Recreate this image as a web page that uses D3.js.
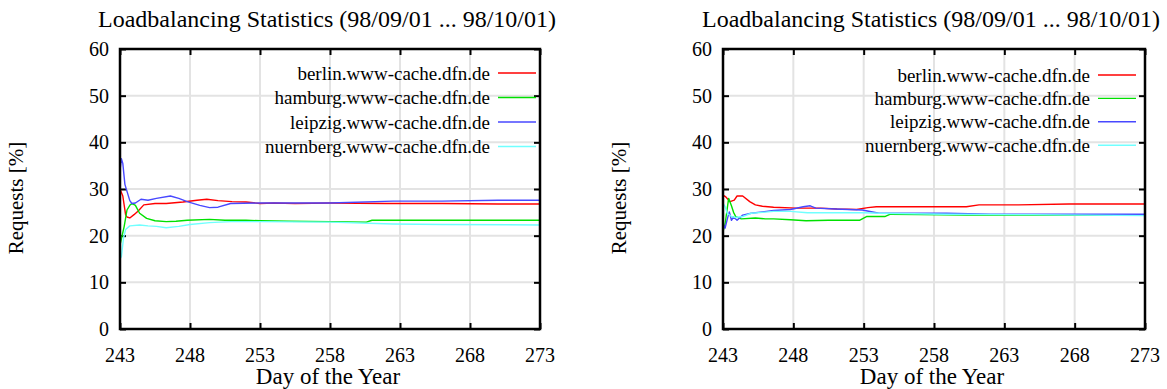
<!DOCTYPE html>
<html>
<head>
<meta charset="utf-8">
<script src="https://cdn.jsdelivr.net/npm/d3@7"></script>
<style>
  body { margin: 0; background: #fff; }
  svg { display: block; }
</style>
</head>
<body>
<div id="chart"></div>
<script>
'use strict';

// values: [day of year, requests %]
const names = ["berlin.www-cache.dfn.de", "hamburg.www-cache.dfn.de",
               "leipzig.www-cache.dfn.de", "nuernberg.www-cache.dfn.de"];
const colors = ["#ff0000", "#00e000", "#4848ff", "#70ffff"];
const xTicks = [243, 248, 253, 258, 263, 268, 273];
const yTicks = [0, 10, 20, 30, 40, 50, 60];
const title = "Loadbalancing Statistics (98/09/01 ... 98/10/01)";

const leftBerlin = [[243.0,30.0],[243.2,28.5],[243.4,24.5],[243.5,24.0],[243.7,23.8],[244.0,24.5],[244.3,25.3],[244.7,26.6],[245.5,26.9],[246.3,26.9],[247.5,27.2],[248.5,27.6],[249.2,27.8],[250.0,27.5],[251.0,27.3],[252.0,27.2],[253.0,26.9],[254.0,27.0],[255.5,26.9],[258.0,27.0],[262.0,26.9],[266.0,26.9],[270.0,26.8],[273.0,26.8]];
const leftHamburg = [[243.0,18.0],[243.1,19.3],[243.3,22.0],[243.5,25.5],[243.7,26.5],[243.85,26.9],[244.1,26.5],[244.4,24.8],[244.9,23.7],[245.5,23.2],[246.3,23.0],[247.0,23.1],[247.8,23.3],[249.4,23.5],[250.5,23.3],[252.0,23.3],[253.0,23.2],[255.0,23.1],[258.0,23.0],[260.6,22.9],[261.0,23.3],[265.0,23.3],[270.0,23.3],[273.0,23.3]];
const leftLeipzig = [[243.0,34.0],[243.1,36.5],[243.2,35.5],[243.35,31.0],[243.5,29.5],[243.7,27.5],[243.85,26.9],[244.1,27.0],[244.5,27.8],[245.0,27.6],[245.6,28.0],[246.6,28.5],[247.2,28.0],[247.8,27.3],[248.7,26.5],[249.4,26.0],[250.0,26.1],[250.9,26.9],[253.0,27.0],[258.0,27.0],[262.5,27.4],[266.0,27.4],[270.0,27.6],[273.0,27.6]];
const leftNuernberg = [[243.0,15.0],[243.1,15.5],[243.25,19.5],[243.4,21.3],[243.7,22.1],[244.4,22.3],[245.0,22.1],[245.6,22.0],[246.3,21.7],[247.2,22.0],[248.0,22.4],[249.4,22.8],[250.9,23.0],[253.0,23.0],[258.0,22.9],[262.5,22.5],[266.0,22.4],[273.0,22.3]];

const rightBerlin = [[243.0,28.7],[243.2,28.3],[243.5,27.3],[243.8,27.6],[244.0,28.5],[244.4,28.5],[244.9,27.3],[245.3,26.6],[245.8,26.3],[246.6,26.1],[248.2,25.9],[249.9,25.9],[251.1,25.7],[252.5,25.6],[253.3,26.0],[253.9,26.2],[257.0,26.2],[260.3,26.2],[261.2,26.6],[264.0,26.6],[267.6,26.8],[273.0,26.8]];
const rightHamburg = [[243.0,20.9],[243.15,22.5],[243.4,28.0],[243.6,26.4],[243.75,25.0],[243.9,24.1],[244.3,23.6],[245.3,23.8],[246.0,23.6],[246.6,23.6],[247.8,23.4],[248.9,23.2],[250.5,23.3],[252.7,23.3],[253.2,24.1],[254.5,24.1],[254.9,24.6],[257.0,24.5],[260.3,24.4],[265.0,24.4],[273.0,24.4]];
const rightLeipzig = [[243.0,22.6],[243.15,21.6],[243.3,23.5],[243.45,25.1],[243.6,23.3],[243.75,24.0],[244.0,23.3],[244.4,24.4],[245.0,24.8],[245.8,25.1],[246.6,25.4],[247.8,25.6],[248.7,26.2],[249.2,26.4],[249.6,25.9],[251.0,25.7],[252.9,25.5],[254.1,24.8],[256.0,24.8],[258.9,24.8],[262.0,24.6],[267.0,24.6],[273.0,24.6]];
const rightNuernberg = [[243.0,26.9],[243.15,26.2],[243.3,24.8],[243.6,24.1],[243.9,23.9],[244.4,24.1],[245.0,24.8],[245.8,25.0],[246.6,25.2],[247.8,25.2],[249.0,24.9],[251.0,24.9],[253.0,24.9],[254.1,24.8],[258.9,24.6],[265.0,24.5],[273.0,24.3]];

const FONT = "'Liberation Serif', 'Times New Roman', Times, serif";
const width = 1167, height = 389;
const svg = d3.select("#chart").append("svg")
    .attr("width", width)
    .attr("height", height)
    .attr("font-family", FONT);

function label(g, x, y, anchor, size, txt)
{
    return g.append("text")
        .attr("x", x).attr("y", y)
        .attr("text-anchor", anchor)
        .attr("font-family", FONT)
        .attr("font-size", size)
        .attr("fill", "#000")
        .text(txt);
}

function drawPlot(left, right, legendX, legendY, legendStep, series)
{
    var top = 49, bottom = 329;
    var x = d3.scaleLinear().domain([243, 273]).range([left, right]);
    var y = d3.scaleLinear().domain([0, 60]).range([bottom, top]);
    var g = svg.append("g");
    var cx = (left + right) / 2;

    // grid
    g.selectAll(".gx").data(xTicks.slice(1, -1)).enter().append("line")
        .attr("x1", d => x(d)).attr("x2", d => x(d))
        .attr("y1", top).attr("y2", bottom)
        .attr("stroke", "#e3e3e3").attr("stroke-width", 2);
    g.selectAll(".gy").data(yTicks.slice(1, -1)).enter().append("line")
        .attr("x1", left).attr("x2", right)
        .attr("y1", d => y(d)).attr("y2", d => y(d))
        .attr("stroke", "#e3e3e3").attr("stroke-width", 2);

    // axes with inward ticks (mirrored on top/right)
    var axes = [
        d3.axisBottom(x).tickValues(xTicks).tickSize(-6).tickFormat(""),
        d3.axisTop(x).tickValues(xTicks).tickSize(-6).tickFormat(""),
        d3.axisLeft(y).tickValues(yTicks).tickSize(-6).tickFormat(""),
        d3.axisRight(y).tickValues(yTicks).tickSize(-6).tickFormat("")
    ];
    var trans = ["translate(0," + bottom + ")", "translate(0," + top + ")",
                 "translate(" + left + ",0)", "translate(" + right + ",0)"];
    axes.forEach(function(a, i) {
        var ax = g.append("g").attr("transform", trans[i]).call(a);
        ax.select(".domain").remove();
        ax.selectAll(".tick line").attr("stroke", "#000").attr("stroke-width", 2);
    });

    // tick labels
    xTicks.forEach(function(d) {
        label(g, x(d), 362, "middle", 20, d);
    });
    yTicks.forEach(function(d) {
        label(g, left - 11, y(d), "end", 20, d).attr("dy", "0.35em");
    });

    // lines
    var line = d3.line().x(d => x(d[0])).y(d => y(d[1]));
    series.forEach(function(s, i) {
        g.append("path").datum(s)
            .attr("d", line)
            .attr("fill", "none")
            .attr("stroke", colors[i])
            .attr("stroke-width", 1.4)
            .attr("stroke-linejoin", "round");
    });

    // legend
    names.forEach(function(n, i) {
        var ly = legendY + i * legendStep;
        label(g, legendX, ly, "end", 19, n).attr("dy", "0.35em");
        g.append("line")
            .attr("x1", legendX + 8).attr("x2", legendX + 46)
            .attr("y1", ly).attr("y2", ly)
            .attr("stroke", colors[i]).attr("stroke-width", 1.4);
    });

    // frame
    g.append("rect")
        .attr("x", left).attr("y", top)
        .attr("width", right - left).attr("height", bottom - top)
        .attr("fill", "none").attr("stroke", "#000").attr("stroke-width", 2.5);

    // titles
    label(g, cx - 3, 27, "middle", 24, title);
    label(g, cx - 2, 384, "middle", 23, "Day of the Year");
    label(g, 0, 0, "middle", 21, "Requests [%]")
        .attr("transform", "translate(" + (left - 97) + ",198) rotate(-90)");
}

drawPlot(120, 540, 490, 73, 24.5, [leftBerlin, leftHamburg, leftLeipzig, leftNuernberg]);
drawPlot(723, 1145, 1090, 75, 23.4, [rightBerlin, rightHamburg, rightLeipzig, rightNuernberg]);
</script>
</body>
</html>
